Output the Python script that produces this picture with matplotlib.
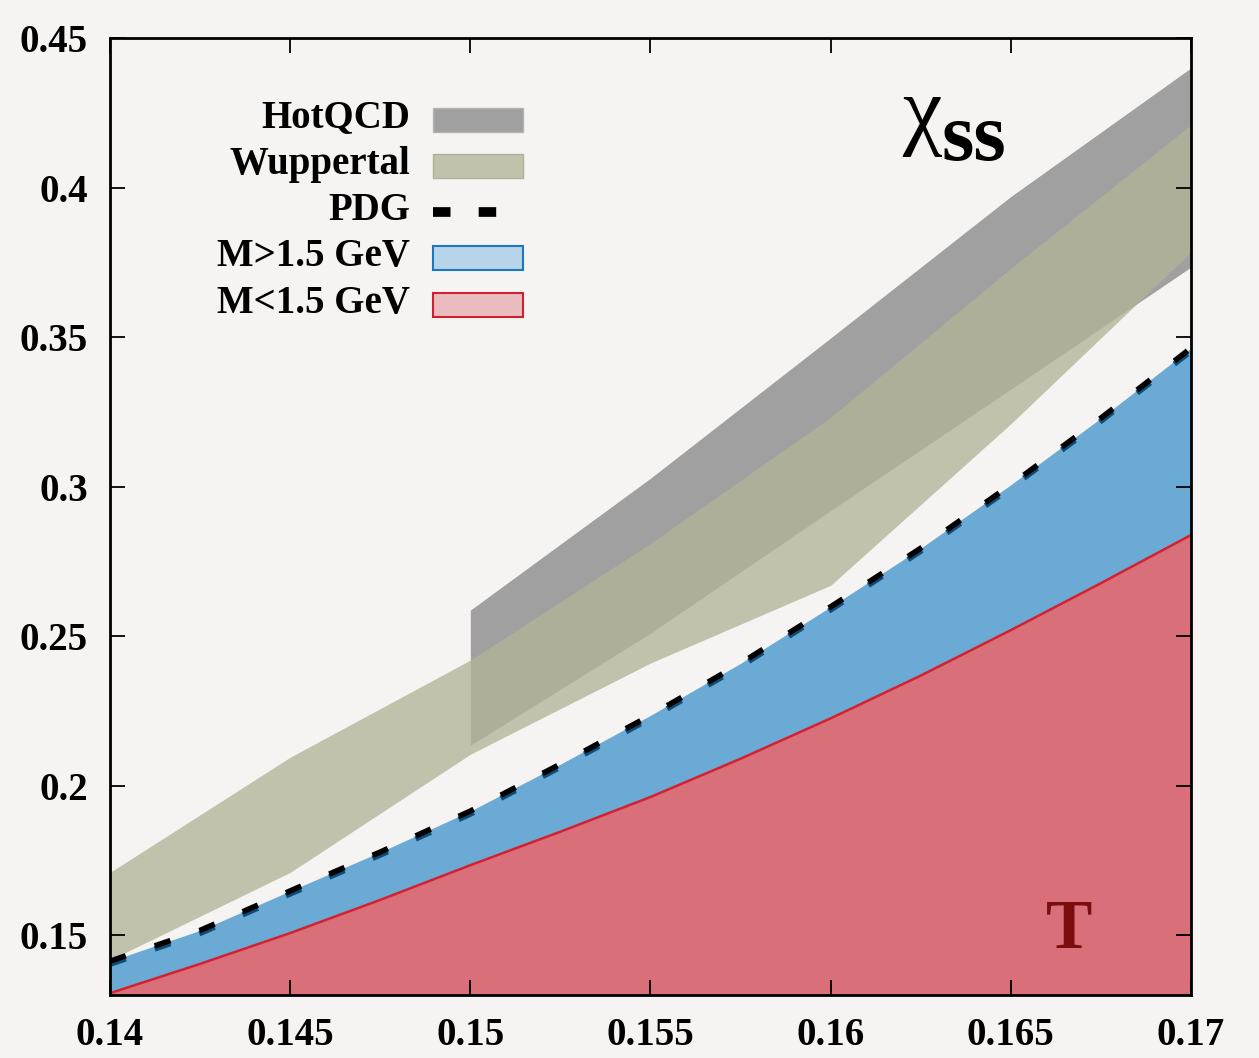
import matplotlib.pyplot as plt
import matplotlib.transforms as mtransforms
from matplotlib.patches import Rectangle
from matplotlib.lines import Line2D

# --- data ---
# lattice bands (x = T in GeV)
hot_T = [0.15, 0.155, 0.16, 0.165, 0.17]
hot_hi = [0.2587, 0.3028, 0.3497, 0.3970, 0.4400]
hot_lo = [0.2135, 0.2510, 0.2920, 0.3326, 0.3734]

wup_T = [0.14, 0.145, 0.15, 0.155, 0.16, 0.165, 0.17]
wup_hi = [0.1710, 0.2095, 0.2420, 0.2810, 0.3232, 0.3730, 0.4210]
wup_lo = [0.1417, 0.1710, 0.2105, 0.2410, 0.2670, 0.3210, 0.3784]

# HRG curves
hrg_T = [0.14, 0.1425, 0.145, 0.1475, 0.15, 0.1525, 0.155, 0.1575,
         0.16, 0.1625, 0.165, 0.1675, 0.17]
pdg = [0.1413, 0.1516, 0.1648, 0.1778, 0.1915, 0.2072, 0.2235, 0.2409,
       0.2598, 0.2794, 0.3006, 0.3229, 0.3463]
low_mass = [0.1306, 0.1404, 0.1507, 0.1618, 0.1734, 0.1846, 0.1962, 0.2090,
            0.2225, 0.2368, 0.2520, 0.2677, 0.2838]

xticks = [0.14, 0.145, 0.15, 0.155, 0.16, 0.165, 0.17]
xlabels = ['0.14', '0.145', '0.15', '0.155', '0.16', '0.165', '0.17']
yticks = [0.15, 0.2, 0.25, 0.3, 0.35, 0.4, 0.45]
ylabels = ['0.15', '0.2', '0.25', '0.3', '0.35', '0.4', '0.45']

bg = '#f5f4f2'
c_hot = '#a0a0a0'
c_wup = '#b2b497'
c_blue = '#6aaad4'
c_red_fill = '#d97079'
c_red_line = '#d42030'

plt.rcParams['font.family'] = ['Liberation Serif', 'DejaVu Serif']

fig = plt.figure(figsize=(12.59, 10.58), dpi=100, facecolor=bg)
ax = fig.add_axes([110/1259, 63/1058, 1081/1259, 957/1058])
ax.set_facecolor(bg)

ymin = 0.13
ax.fill_between(hot_T, hot_lo, hot_hi, color=c_hot, lw=0)
ax.fill_between(wup_T, wup_lo, wup_hi, color=c_wup, alpha=0.78, lw=0)
ax.fill_between(hrg_T, low_mass, pdg, color=c_blue, lw=0)
ax.fill_between(hrg_T, ymin, low_mass, color=c_red_fill, lw=0)
ax.plot(hrg_T, low_mass, color=c_red_line, lw=1.8)

# dashed PDG line with its dark-blue shadow
shadow = mtransforms.offset_copy(ax.transData, fig=fig, x=0, y=-3, units='dots')
ax.plot(hrg_T, pdg, color='#0d4d78', lw=4, dashes=(3.0, 5.5), transform=shadow,
        dash_capstyle='butt')
ax.plot(hrg_T, pdg, color='black', lw=4, dashes=(3.0, 5.5),
        dash_capstyle='butt')

ax.set_xlim(0.14, 0.17)
ax.set_ylim(ymin, 0.45)
ax.set_xticks(xticks)
ax.set_xticklabels(xlabels)
ax.set_yticks(yticks)
ax.set_yticklabels(ylabels)
ax.tick_params(direction='in', length=11, width=1.3, top=True, right=True,
               labelsize=28, pad=16)
for lab in ax.get_xticklabels() + ax.get_yticklabels():
    lab.set_fontweight('bold')
for s in ax.spines.values():
    s.set_linewidth(2.0)
    s.set_zorder(5)

# legend drawn by hand: labels right-aligned, samples on the right
rows = [('HotQCD', 0.907), ('Wuppertal', 0.858), ('PDG', 0.810),
        ('M>1.5 GeV', 0.762), ('M<1.5 GeV', 0.713)]
for lab, yb in rows:
    ax.text(0.2775, yb, lab, transform=ax.transAxes, ha='right', va='baseline',
            fontsize=28, fontweight='bold')
bx, bw, bh = 0.2985, 0.0835, 0.025
ax.add_patch(Rectangle((bx, 0.9143 - bh/2), bw, bh, transform=ax.transAxes,
                       facecolor=c_hot, edgecolor='#b4b4b4', lw=1))
ax.add_patch(Rectangle((bx, 0.8663 - bh/2), bw, bh, transform=ax.transAxes,
                       facecolor='#c1c2ab', edgecolor='#b0b298', lw=1))
ax.add_line(Line2D([bx, bx + 0.068], [0.8182, 0.8182], transform=ax.transAxes,
                   color='black', lw=7, dashes=(1.8, 2.9), dash_capstyle='butt'))
ax.add_patch(Rectangle((bx, 0.7701 - bh/2), bw, bh, transform=ax.transAxes,
                       facecolor='#b8d4e8', edgecolor='#1a78c2', lw=1.5))
ax.add_patch(Rectangle((bx, 0.7210 - bh/2), bw, bh, transform=ax.transAxes,
                       facecolor='#ebbcbf', edgecolor='#d0202e', lw=1.5))

# panel labels
ax.text(0.7325, 0.895, 'χ', transform=ax.transAxes, ha='left', va='baseline',
        fontsize=64)
ax.text(0.7695, 0.872, 'ss', transform=ax.transAxes, ha='left', va='baseline',
        fontsize=60, fontweight='bold')
ax.text(0.887, 0.049, 'T', transform=ax.transAxes, ha='center', va='baseline',
        fontsize=50, fontweight='bold', color='#7b0d10')

plt.savefig('out.png', dpi=100, facecolor=bg)
